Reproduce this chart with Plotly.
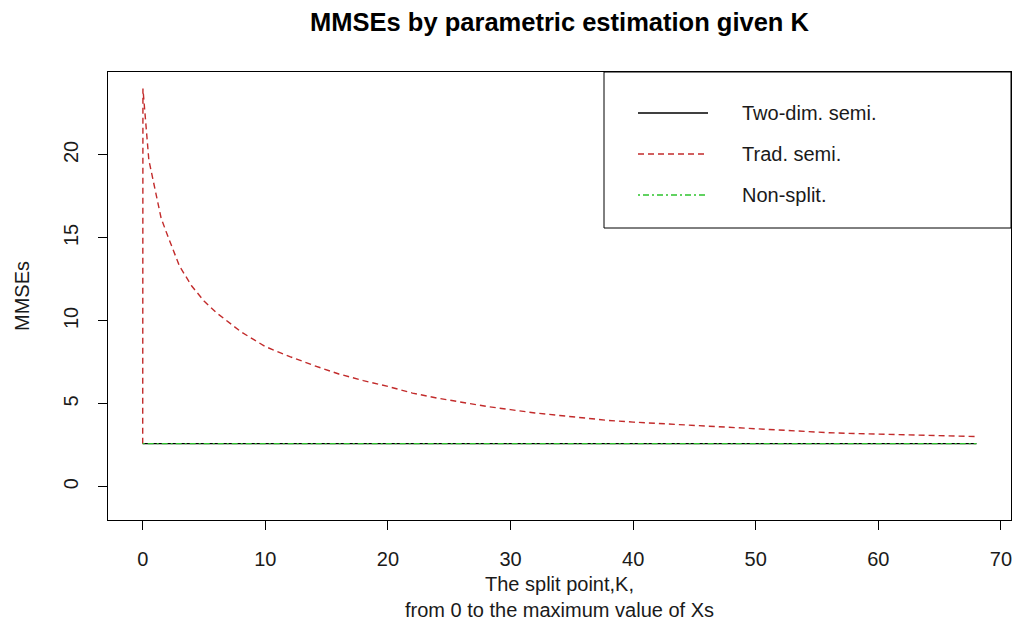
import plotly.graph_objects as go

# ---- data ----
K_TRAD = [0, 0.02, 0.5, 1, 1.5, 2, 3, 4, 5, 6, 7, 8, 9, 10, 12, 14, 16, 18, 20,
          22, 24, 26, 28, 30, 32, 34, 36, 38, 40, 42, 44, 46, 48, 50, 52, 54,
          56, 58, 60, 62, 64, 66, 68]
TRAD_SEMI = [2.6, 24.0, 19.7, 18.0, 16.2, 15.2, 13.3, 12.1, 11.2, 10.5, 9.9,
             9.35, 8.9, 8.45, 7.85, 7.3, 6.8, 6.4, 6.05, 5.65, 5.35, 5.1, 4.85,
             4.65, 4.45, 4.3, 4.15, 4.0, 3.9, 3.82, 3.73, 3.64, 3.55, 3.46,
             3.39, 3.32, 3.26, 3.21, 3.17, 3.12, 3.08, 3.05, 3.03]
K_FLAT = [0, 68]
TWO_DIM_SEMI = [2.6, 2.6]
NON_SPLIT = [2.6, 2.6]

X_TICKS = [0, 10, 20, 30, 40, 50, 60, 70]
Y_TICKS = [0, 5, 10, 15, 20]

SERIES_NAMES = ["Two-dim. semi.", "Trad. semi.", "Non-split."]
SERIES_COLORS = ["black", "#c22b2b", "#2ec42e"]
SERIES_DASH = ["solid", "6px,4px", "2px,3px,6px,3px"]

TITLE = "MMSEs by parametric estimation given K"
X_TITLE = "The split point,K,<br>from 0 to the maximum value of Xs"
Y_TITLE = "MMSEs"

FONT = "Liberation Sans, Arial, sans-serif"
TXT = "#1a1a1a"
W, H = 1015, 622
L, R, T, B = 108, 4, 72, 102
PW, PH = W - L - R, H - T - B
LW = 1.4


def px_x(p):  # pixel -> paper x
    return (p - L) / PW


def px_y(p):  # pixel -> paper y
    return 1 - (p - T) / PH


fig = go.Figure()
fig.add_trace(go.Scatter(x=K_FLAT, y=TWO_DIM_SEMI, mode="lines",
                         name=SERIES_NAMES[0],
                         line=dict(color=SERIES_COLORS[0], width=LW,
                                   dash=SERIES_DASH[0])))
fig.add_trace(go.Scatter(x=K_TRAD, y=TRAD_SEMI, mode="lines",
                         name=SERIES_NAMES[1],
                         line=dict(color=SERIES_COLORS[1], width=LW,
                                   dash=SERIES_DASH[1])))
fig.add_trace(go.Scatter(x=K_FLAT, y=NON_SPLIT, mode="lines",
                         name=SERIES_NAMES[2],
                         line=dict(color=SERIES_COLORS[2], width=LW,
                                   dash=SERIES_DASH[2])))

axis_common = dict(
    showgrid=False, zeroline=False, showline=True, linecolor="black",
    linewidth=1, mirror=True, ticks="outside", ticklen=9, tickwidth=1,
    tickcolor="black", tickfont=dict(family=FONT, size=20, color=TXT),
)

# legend drawn as a boxed key in the top-right corner
shapes = [dict(type="rect", xref="paper", yref="paper",
               x0=px_x(604), x1=1, y0=px_y(228), y1=1,
               line=dict(color="black", width=1), fillcolor="rgba(0,0,0,0)")]
annotations = []
row_y = [113, 154, 195]
for name, col, dash, yy in zip(SERIES_NAMES, SERIES_COLORS, SERIES_DASH, row_y):
    shapes.append(dict(type="line", xref="paper", yref="paper",
                       x0=px_x(638), x1=px_x(708), y0=px_y(yy), y1=px_y(yy),
                       line=dict(color=col, width=LW, dash=dash)))
    annotations.append(dict(text=name, xref="paper", yref="paper",
                            x=px_x(740), y=px_y(yy), xanchor="left",
                            yanchor="middle", showarrow=False,
                            font=dict(family=FONT, size=20, color=TXT)))

# axis titles
annotations.append(dict(text=X_TITLE, xref="paper", yref="paper",
                        x=0.5, y=px_y(597), xanchor="center", yanchor="middle",
                        showarrow=False, align="center",
                        font=dict(family=FONT, size=20, color=TXT)))
annotations.append(dict(text=Y_TITLE, xref="paper", yref="paper",
                        x=px_x(22), y=0.5, xanchor="center", yanchor="middle",
                        textangle=-90, showarrow=False,
                        font=dict(family=FONT, size=20, color=TXT)))

fig.update_layout(
    width=W, height=H,
    margin=dict(l=L, r=R, t=T, b=B, autoexpand=False),
    paper_bgcolor="white", plot_bgcolor="white",
    title=dict(text="<b>" + TITLE + "</b>", x=0.5, xref="paper",
               y=1 - 22 / H, yref="container", yanchor="middle",
               font=dict(family=FONT, size=25.5, color="black")),
    xaxis=dict(range=[-2.83, 70.82], tickvals=X_TICKS, ticklabelstandoff=12,
               **axis_common),
    yaxis=dict(range=[-2, 25], tickvals=Y_TICKS, tickangle=-90,
               ticklabelstandoff=12, **axis_common),
    shapes=shapes,
    annotations=annotations,
    showlegend=False,
)

fig.write_html("out.html",
               config={"displayModeBar": False},
               post_script="document.body.style.margin='0px';"
                           "document.body.style.overflow='hidden';")
